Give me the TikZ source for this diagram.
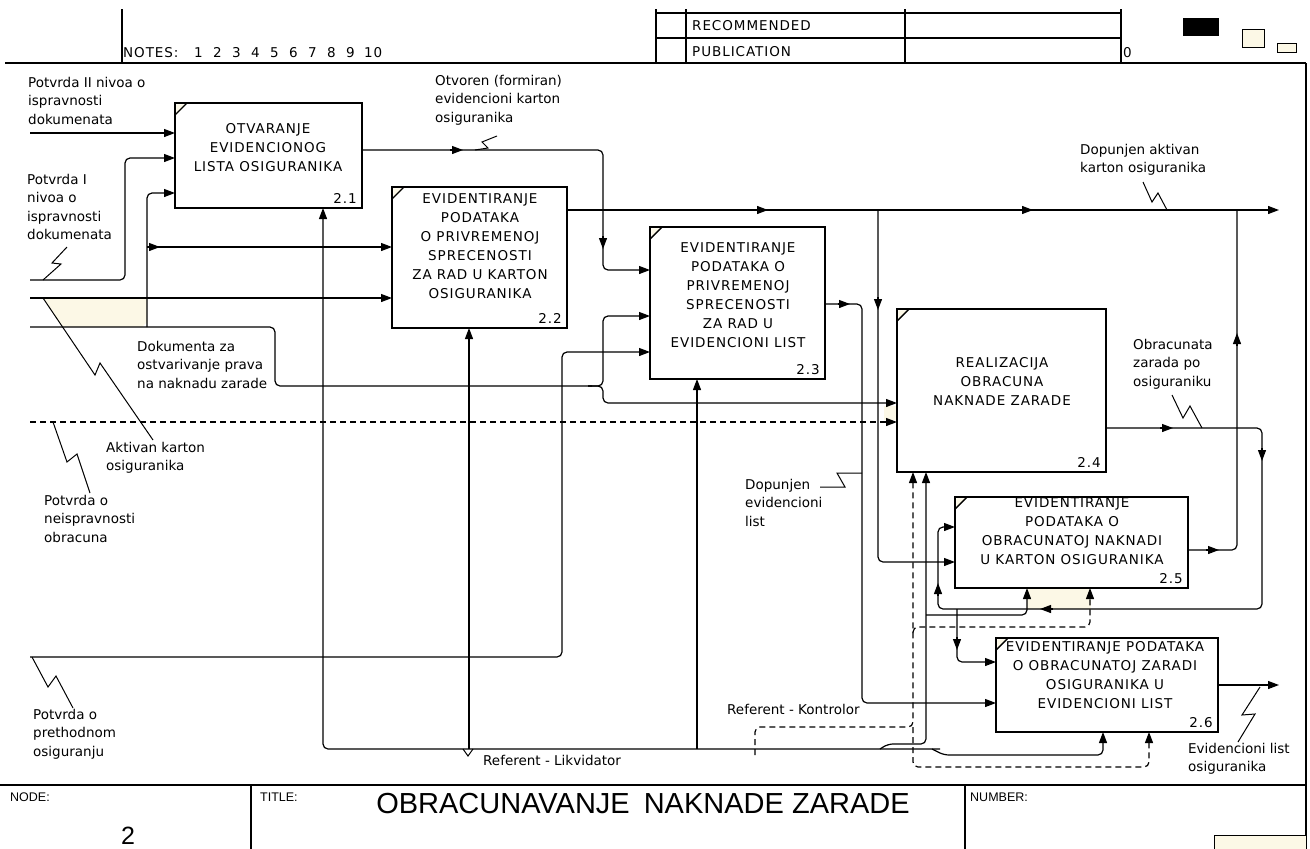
\documentclass[tikz,border=0pt]{standalone}
\usepackage{fontspec}
\setmainfont{DejaVu Sans}
\newfontfamily\labfam{DejaVu Sans}
\newfontfamily\boxfam[LetterSpace=7]{DejaVu Sans}
\newfontfamily\hdrfam[LetterSpace=7]{DejaVu Sans}
\newfontfamily\arialfam{Liberation Sans}
\usetikzlibrary{arrows.meta,calc}
\definecolor{cream}{RGB}{252,248,230}
\newcommand\lbfont{\labfam\fontsize{13.5}{18.5}\selectfont}
\newcommand\bxfont{\boxfam\fontsize{13.5}{19}\selectfont}
\newcommand\hdfont{\hdrfam\fontsize{13.5}{15}\selectfont}
\newcommand\ftfont{\arialfam\fontsize{12.5}{14}\selectfont}
\begin{document}
\begin{tikzpicture}[x=1pt,y=-1pt,
  conn/.style={line width=1.2pt, rounded corners=5pt},
  arr/.style={conn,-{Triangle[length=11pt,width=8pt]}},
  tip/.style={line width=1.2pt,-{Triangle[length=11pt,width=8pt]}},
  dconn/.style={conn,dash pattern=on 6pt off 4pt},
  darr/.style={dconn,-{Triangle[length=11pt,width=8pt]}},
  sq/.style={line width=1pt},
  frame/.style={line width=1.3pt},
  act/.style={draw,line width=2.8pt,rectangle,inner sep=0pt,outer sep=0pt},
  btext/.style={font=\bxfont,align=center,inner sep=0pt,anchor=north},
  lab/.style={font=\lbfont,align=left,inner sep=0pt,anchor=north west},
  num/.style={font=\bxfont,inner sep=0pt,anchor=base east},
  hdr/.style={font=\hdfont,inner sep=0pt,anchor=base west},
  ftr/.style={font=\ftfont,inner sep=0pt,anchor=west},
]
\useasboundingbox (0,0) rectangle (1310,849);

% cream patches
\fill[cream] (43,298) -- (147,298) -- (147,322) -- (142,327) -- (62,327) -- cycle;
\fill[cream] (884,406) rectangle (896,420);
\fill[cream] (1027,589) rectangle (1091,609);

% header frame
\draw[frame] (5,63) -- (1306,63);
\draw[frame] (122,9) -- (122,63);
\draw[frame] (656,13) -- (1121,13) (656,38) -- (1121,38);
\foreach \x in {656,686,905,1121} \draw[frame] (\x,9) -- (\x,63);
\draw[frame] (1306,63) -- (1306,849);
\fill (1183,18) rectangle (1219,36);
\draw[fill=cream,line width=1pt] (1242,29) rectangle (1264,47);
\draw[fill=cream,line width=1pt] (1277,43) rectangle (1296,52);
\node[hdr] (notes) at (123,57) {NOTES:};
\foreach \i in {1,...,9} \node[hdr] (nt\i) at ({194+19*(\i-1)},57) {\i};
\node[hdr] (nt10) at (364,57) {10};
\node[hdr] (rec) at (692,30) {RECOMMENDED};
\node[hdr] (pub) at (692,56) {PUBLICATION};
\node[hdr] (zero) at (1123,57) {0};

% footer frame
\draw[frame] (0,785) -- (1306,785);
\draw[frame] (251,785) -- (251,849) (965,785) -- (965,849);
\draw[fill=cream,line width=1pt] (1214,835) rectangle (1306,852);
\node[ftr] (node) at (10,797) {NODE:};
\node[ftr] (titlelab) at (260,797) {TITLE:};
\node[ftr] (numlab) at (970,797) {NUMBER:};
\node[font=\arialfam\fontsize{25}{28}\selectfont,inner sep=0pt] (nodenum) at (128,836) {2};
\node[font=\arialfam\fontsize{29}{32}\selectfont,inner sep=0pt] (title) at (643,804) {OBRACUNAVANJE\hspace{14pt}NAKNADE ZARADE};

% activity boxes
\node[act,minimum width=187pt,minimum height=105pt] (b1) at (268.5,155.5) {};
\node[act,minimum width=175pt,minimum height=141pt] (b2) at (479.5,257.5) {};
\node[act,minimum width=175pt,minimum height=152pt] (b3) at (737.5,303) {};
\node[act,minimum width=209pt,minimum height=163pt] (b4) at (1001.5,390.5) {};
\node[act,minimum width=233pt,minimum height=91pt] (b5) at (1071.5,542.5) {};
\node[act,minimum width=222pt,minimum height=94pt] (b6) at (1107,685) {};
\foreach \b in {b1,b2,b3,b4,b5,b6}{
  \fill[cream] ($(\b.north west)+(1.4,1.4)$) -- ++(10,0) -- ++(-10,10) -- cycle;
  \draw[line width=1.4pt] ($(\b.north west)+(12,0)$) -- ($(\b.north west)+(0,12)$);
}
\node[btext] (t1) at (268,123) {OTVARANJE\\EVIDENCIONOG\\LISTA OSIGURANIKA};
\node[btext] (t2) at (480,193) {EVIDENTIRANJE\\PODATAKA\\O PRIVREMENOJ\\SPRECENOSTI\\ZA RAD U KARTON\\OSIGURANIKA};
\node[btext] (t3) at (738,242) {EVIDENTIRANJE\\PODATAKA O\\PRIVREMENOJ\\SPRECENOSTI\\ZA RAD U\\EVIDENCIONI LIST};
\node[btext] (t4) at (1002,357) {REALIZACIJA\\OBRACUNA\\NAKNADE ZARADE};
\node[btext] (t5) at (1072,497) {EVIDENTIRANJE\\PODATAKA O\\OBRACUNATOJ NAKNADI\\U KARTON OSIGURANIKA};
\node[btext] (t6) at (1105,641) {EVIDENTIRANJE PODATAKA\\O OBRACUNATOJ ZARADI\\OSIGURANIKA U\\EVIDENCIONI LIST};
\node[num] (n1) at (357,203) {2.1};
\node[num] (n2) at (562,323) {2.2};
\node[num] (n3) at (820,374) {2.3};
\node[num] (n4) at (1101,467) {2.4};
\node[num] (n5) at (1183,583) {2.5};
\node[num] (n6) at (1213,727) {2.6};

% inputs
\coordinate (i1) at (30,133);
\draw[arr] (i1) -- (i1 -| b1.west);
\draw[arr] (30,280) -- (125,280) -- (125,158) -- (b1.west |- 0,158);
\draw[conn] (30,327) -- (275,327) -- (275,386) -- (592,386);
\draw[arr] (588,386) -- (603,386) -- (603,316) -- (b3.west |- 0,316);
\draw[arr] (588,386) -- (603,386) -- (603,403) -- (b4.west |- 0,403);
\draw[arr] (147,327) -- (147,193) -- (b1.west |- 0,193);
\draw[arr] (147,247) -- (b2.west |- 0,247);
\draw[tip] (147,247) -- (160,247);
\draw[arr] (30,298) -- (b2.west |- 0,298);
\draw[darr] (30,422) -- (b4.west |- 0,422);
\draw[arr] (30,657) -- (562,657) -- (562,352) -- (b3.west |- 0,352);

% outputs
\draw[arr] (b1.east |- 0,150) -- (603,150) -- (603,270) -- (b3.west |- 0,270);
\draw[tip] (450,150) -- (463,150);
\draw[tip] (603,236) -- (603,249);
\coordinate (o2) at (1279,210);
\draw[arr] (b2.east |- o2) -- (o2);
\draw[tip] (755,210) -- (768,210);
\draw[tip] (1020,210) -- (1033,210);
\draw[arr] (878,210) -- (878,562) -- (b5.west |- 0,562);
\draw[tip] (878,297) -- (878,310);
\draw[arr] (b3.east |- 0,304) -- (862,304) -- (862,703) -- (b6.west |- 0,703);
\draw[tip] (838,304) -- (850,304);
\draw[arr] (b4.east |- 0,428) -- (1262,428) -- (1262,609) -- (938,609) -- (938,527) -- (b5.west |- 0,527);
\draw[tip] (1160,428) -- (1173,428);
\draw[tip] (1262,448) -- (1262,461);
\draw[tip] (1053,609) -- (1040,609);
\draw[tip] (938,596) -- (938,583);
\draw[arr] (957,609) -- (957,662) -- (b6.west |- 0,662);
\draw[tip] (957,637) -- (957,650);
\draw[conn] (b5.east |- 0,550) -- (1237,550) -- (1237,210);
\draw[tip] (1206,550) -- (1219,550);
\draw[tip] (1237,346) -- (1237,333);
\coordinate (o6) at (1279,685);
\draw[arr] (b6.east |- o6) -- (o6);

% mechanisms
\draw[arr] (940,749) -- (323,749) -- (323,0 |- b1.south);
\draw[arr] (469,749) -- (469,0 |- b2.south);
\draw[arr] (697,749) -- (697,0 |- b3.south);
\draw[arr] (932,749) -- (944,755) -- (1103,755) -- (1103,0 |- b6.south);
\draw[arr] (880,749) -- (888,744) -- (926,744) -- (926,0 |- b4.south);
\draw[arr] (926,615) -- (1027,615) -- (1027,0 |- b5.south);
\draw[sq] (463,749) -- (468,756) -- (473,749);
\draw[darr] (755,755) -- (755,727) -- (913,727) -- (913,0 |- b4.south);
\draw[darr] (913,727) -- (913,767) -- (1149,767) -- (1149,0 |- b6.south);
\draw[darr] (913,633) -- (913,627) -- (1090,627) -- (1090,0 |- b5.south);

% squiggles
\draw[sq] (43,280) -- (61,264) -- (52,263) -- (67,247);
\draw[sq] (43,298) -- (95,375) -- (100,363) -- (153,440);
\draw[sq] (53,422) -- (67,462) -- (77,454) -- (90,493);
\draw[sq] (32,657) -- (48,687) -- (56,676) -- (73,708);
\draw[sq] (475,150) -- (488,148) -- (482,142) -- (497,136);
\draw[sq] (1167,210) -- (1158,193) -- (1152,202) -- (1143,182);
\draw[sq] (862,473) -- (837,473) -- (845,487) -- (820,487);
\draw[sq] (1202,428) -- (1190,406) -- (1183,418) -- (1172,395);
\draw[sq] (1260,687) -- (1242,715) -- (1255,714) -- (1238,742);

% labels
\node[lab] (l1) at (28,77) {Potvrda II nivoa o\\ispravnosti\\dokumenata};
\node[lab] (l2) at (27,174) {Potvrda I\\nivoa o\\ispravnosti\\dokumenata};
\node[lab] (l3) at (435,75) {Otvoren (formiran)\\evidencioni karton\\osiguranika};
\node[lab] (l4) at (1080,144) {Dopunjen aktivan\\karton osiguranika};
\node[lab] (l5) at (137,341) {Dokumenta za\\ostvarivanje prava\\na naknadu zarade};
\node[lab] (l6) at (106,442) {Aktivan karton\\osiguranika};
\node[lab] (l7) at (44,495) {Potvrda o\\neispravnosti\\obracuna};
\node[lab] (l8) at (1133,339) {Obracunata\\zarada po\\osiguraniku};
\node[lab] (l9) at (745,479) {Dopunjen\\evidencioni\\list};
\node[lab] (l10) at (33,709) {Potvrda o\\prethodnom\\osiguranju};
\node[lab] (l11) at (483,755) {Referent - Likvidator};
\node[lab] (l12) at (727,704) {Referent - Kontrolor};
\node[lab] (l13) at (1188,743) {Evidencioni list\\osiguranika};
\end{tikzpicture}
\end{document}
